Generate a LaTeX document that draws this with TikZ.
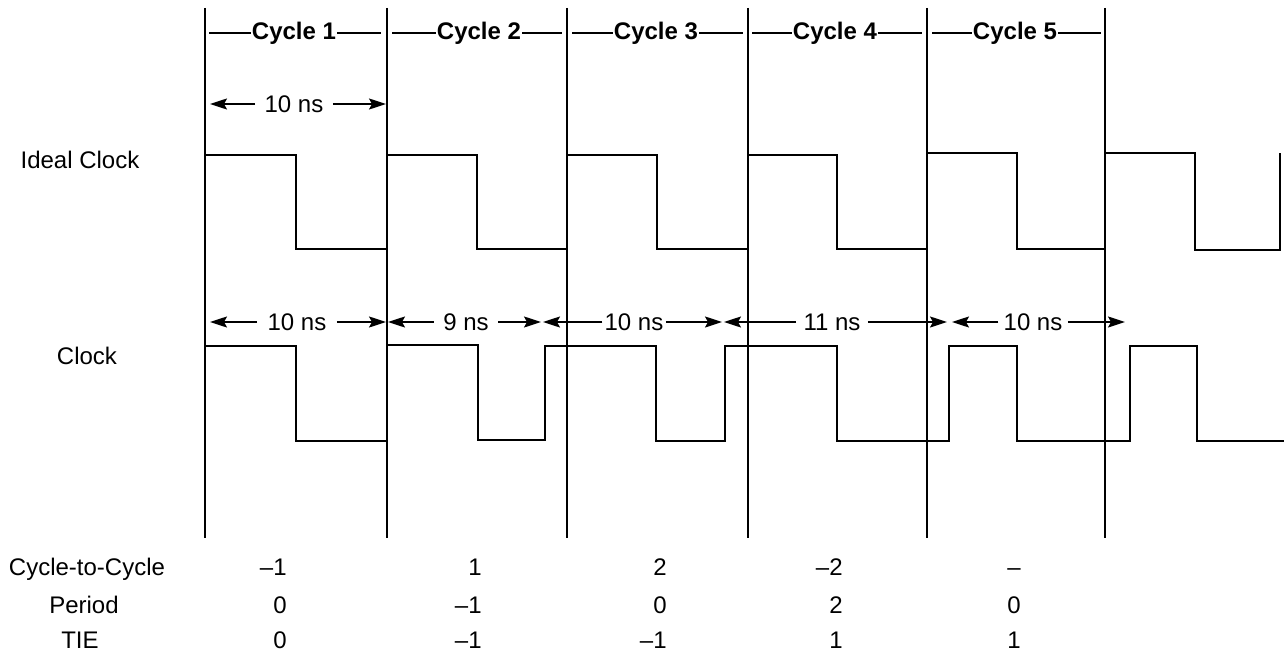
\documentclass[tikz,border=0pt]{standalone}
\usepackage{fontspec}
\setmainfont{Liberation Sans}
\usetikzlibrary{arrows.meta}
\begin{document}
\begin{tikzpicture}[x=0.5pt,y=-0.5pt,
  gridline/.style={line width=1pt},
  wave/.style={line width=1pt,line join=miter},
  lbl/.style={font=\fontsize{12}{14}\selectfont,inner sep=0pt,anchor=base},
  val/.style={font=\fontsize{12}{14}\selectfont,inner sep=0pt,anchor=base east},
  cyc/.style={font=\bfseries\fontsize{12}{14}\selectfont,inner xsep=0.5pt,inner ysep=0pt},
  dimtext/.style={font=\fontsize{12}{14}\selectfont,inner xsep=4pt,inner ysep=0pt},
  cycline/.style={line width=0.7pt},
  dimarrow/.style={line width=0.8pt,-{Stealth[length=8.5pt,width=5.5pt,inset=1.5pt]}}]
\useasboundingbox (0,0) rectangle (1284,658);

% grid lines
\foreach \i/\x in {1/205,2/387,3/567,4/748,5/927,6/1105}{
  \coordinate (gt\i) at (\x,8);
  \coordinate (gb\i) at (\x,538);
  \draw[gridline] (gt\i) -- (gb\i);
}

% cycle labels
\foreach \i/\c/\l/\r in {1/294/209/381,2/479/392/562,3/656/572/743,4/835/752/922,5/1015/932/1101}{
  \node[cyc] (cy\i) at (\c,33) {Cycle \i};
  \coordinate (cyl\i) at (\l,33);
  \coordinate (cyr\i) at (\r,33);
  \draw[cycline] (cyl\i) -- (cy\i.west);
  \draw[cycline] (cy\i.east) -- (cyr\i);
}

% row labels
\node[lbl] (ideal) at (80,169) {Ideal Clock};
\node[lbl] (clock) at (87,364) {Clock};

% ideal clock waveform
\draw[wave] (205,155) -- (296,155) -- (296,249) -- (387,249);
\draw[wave] (387,155) -- (477,155) -- (477,249) -- (567,249);
\draw[wave] (567,155) -- (657,155) -- (657,249) -- (748,249);
\draw[wave] (748,155) -- (837,155) -- (837,249) -- (927,249);
\draw[wave] (927,153) -- (1017,153) -- (1017,249) -- (1105,249);
\draw[wave] (1105,153) -- (1195,153) -- (1195,250) -- (1280,250) -- (1280,153);

% clock waveform
\draw[wave] (205,346) -- (296,346) -- (296,441) -- (387,441);
\draw[wave] (387,345) -- (478,345) -- (478,440) -- (545,440) -- (545,346)
  -- (656,346) -- (656,441) -- (725,441) -- (725,346) -- (837,346)
  -- (837,441) -- (949,441) -- (949,346) -- (1017,346) -- (1017,441)
  -- (1130,441) -- (1130,346) -- (1197,346) -- (1197,441) -- (1284,441);

% ideal period annotation
\node[dimtext,inner xsep=4.5pt] (i1) at (294,104) {10 ns};
\coordinate (i1l) at (210,104);
\coordinate (i1r) at (386,104);
\draw[dimarrow] (i1.west) -- (i1l);
\draw[dimarrow] (i1.east) -- (i1r);

% clock period annotations
\node[dimtext,inner xsep=5pt] (a1) at (297,322) {10 ns};
\coordinate (a1l) at (210,322);
\coordinate (a1r) at (386,322);
\draw[dimarrow] (a1.west) -- (a1l);
\draw[dimarrow] (a1.east) -- (a1r);

\node[dimtext,inner xsep=4.5pt] (a2) at (466,322) {9 ns};
\coordinate (a2l) at (388,322);
\coordinate (a2r) at (541,322);
\draw[dimarrow] (a2.west) -- (a2l);
\draw[dimarrow] (a2.east) -- (a2r);

\node[dimtext,inner xsep=1pt] (a3) at (634,322) {10 ns};
\coordinate (a3l) at (543,322);
\coordinate (a3r) at (722,322);
\draw[dimarrow] (a3.west) -- (a3l);
\draw[dimarrow] (a3.east) -- (a3r);

\node[dimtext,inner xsep=3.5pt] (a4) at (832,322) {11 ns};
\coordinate (a4l) at (724,322);
\coordinate (a4r) at (947,322);
\draw[dimarrow] (a4.west) -- (a4l);
\draw[dimarrow] (a4.east) -- (a4r);

\node[dimtext,inner xsep=2.5pt] (a5) at (1033,322) {10 ns};
\coordinate (a5l) at (952,322);
\coordinate (a5r) at (1125,322);
\draw[dimarrow] (a5.west) -- (a5l);
\draw[dimarrow] (a5.east) -- (a5r);

% table
\node[lbl] (tc) at (87,575) {Cycle-to-Cycle};
\node[lbl] (tp) at (84,613) {Period};
\node[lbl] (tt) at (80,648) {TIE};

\foreach \i/\x/\c/\p/\t in {1/287/{–1}/0/0,2/482/1/{–1}/{–1},3/667/2/0/{–1},4/843/{–2}/2/1,5/1021/{–}/0/1}{
  \node[val] (vc\i) at (\x,575) {\c};
  \node[val] (vp\i) at (\x,613) {\p};
  \node[val] (vt\i) at (\x,648) {\t};
}
\end{tikzpicture}
\end{document}
